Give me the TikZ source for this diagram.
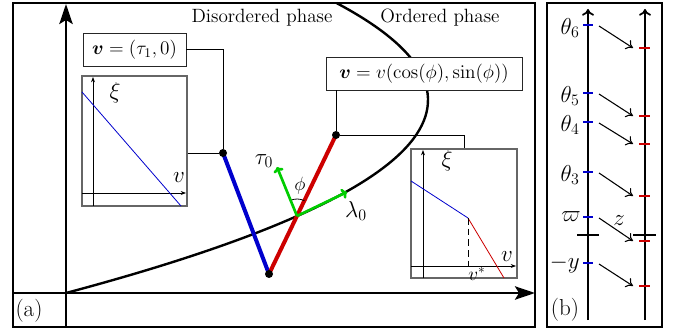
\documentclass[tikz,border=0pt]{standalone}
\usepackage{amsmath,bm}
\usetikzlibrary{arrows.meta}
\definecolor{myblue}{RGB}{0,0,205}
\definecolor{myred}{RGB}{205,0,0}
\definecolor{mygreen}{RGB}{0,205,0}
\begin{document}
\begin{tikzpicture}[x=0.75pt,y=-0.75pt,
  frame/.style={line width=1.6pt},
  bigaxis/.style={line width=1.8pt,-{Stealth[length=15pt,width=10pt,inset=3pt]}},
  thinline/.style={line width=0.6pt},
  smallarrow/.style={line width=0.6pt,-{Stealth[length=4pt,width=3pt]}},
  labelbox/.style={draw=black!85,line width=0.6pt,fill=white,inner sep=0pt},
  inset/.style={draw=black!60,line width=0.8pt,fill=white},
  dot/.style={circle,fill=black,inner sep=0pt,minimum size=6pt},
  thickcol/.style={line width=3pt},
  gvec/.style={mygreen,line width=2pt,-{To[length=4pt,width=8pt]}},
  bax/.style={line width=1.3pt,-{To[length=5pt,width=9pt]}},
  btick/.style={line width=1.5pt},
  barrow/.style={line width=0.8pt,-{To[length=5pt,width=8pt]}},
  txt/.style={font=\fontsize{14.4}{17}\selectfont,inner sep=0pt},
  bigtxt/.style={font=\fontsize{17.28}{20}\selectfont,inner sep=0pt},
]
\useasboundingbox (0,0) rectangle (681,331);
% ---- panel (a)
\draw[frame] (13,3) rectangle (535,327);
\draw[bigaxis] (66,327) -- (66,4);
\draw[bigaxis] (13,293) -- (535,293);
\node[bigtxt] (lab-a) at (29,311) {(a)};
\draw[line width=1.8pt] (66,293) .. controls (428.7,196.3) and (518.8,99.7) .. (336.5,3);
\node[txt] (dis) at (262,18) {Disordered phase};
\node[txt] (ord) at (440,18) {Ordered phase};
% colored lines
\coordinate (p1) at (223,153);
\coordinate (p0) at (269,274);
\coordinate (p2) at (336,135);
\draw[thickcol,myblue] (p1) -- (p0);
\draw[thickcol,myred] (p0) -- (p2);
\node[dot] (d1) at (p1) {};
\node[dot] (d0) at (p0) {};
\node[dot] (d2) at (p2) {};
% green frame
\coordinate (g0) at (297,216);
\coordinate (gt) at (277,167);
\coordinate (gl) at (347,192);
\draw[thinline] (g0) ++(-112:17) arc[start angle=-112,end angle=-64,radius=17];
\draw[gvec] (g0) -- (gt);
\draw[gvec] (g0) -- (gl);
\node[bigtxt] (tau) at (264,161) {$\tau_0$};
\node[bigtxt] (lam) at (356,211) {$\lambda_0$};
\node[txt] (phi) at (300,186) {$\phi$};
% boxes
\node[labelbox,txt,minimum width=77.25pt,minimum height=24.75pt] (b1) at (134.5,49.5) {$\bm{v}=(\tau_1,0)$};
\node[labelbox,txt,minimum width=147pt,minimum height=24.75pt] (b2) at (424,73.5) {$\bm{v}=v(\cos(\phi),\sin(\phi))$};
% inset 1
\node[inset,minimum width=78.75pt,minimum height=97.5pt] (i1) at (134.5,141) {};
\draw[smallarrow] (93,206) -- (93,77);
\draw[smallarrow] (82,193) -- (186,193);
\draw[myblue,line width=0.6pt] (82,92) -- (181,206);
\node[bigtxt] (xi1) at (115,93) {$\xi$};
\node[bigtxt] (v1) at (179,178) {$v$};
% inset 2
\node[inset,minimum width=79.5pt,minimum height=96.75pt] (i2) at (464,213.5) {};
\draw[smallarrow] (423,278) -- (423,150);
\draw[smallarrow] (411,266) -- (516,266);
\draw[myblue,line width=0.6pt] (411,181) -- (468,218);
\draw[myred,line width=0.6pt] (468,218) -- (504,278);
\draw[line width=0.6pt,dash pattern=on 5pt off 3pt] (468,218) -- (468,266);
\node[bigtxt] (xi2) at (447,161) {$\xi$};
\node[bigtxt] (v2) at (507,257) {$v$};
\node[txt] (vs) at (477,274) {$v^*$};
% connectors
\draw[thinline] (b1.east) -| (d1);
\draw[thinline] (i1.east |- d1) -- (d1);
\draw[thinline] (b2.south -| d2) -- (d2);
\draw[thinline] (d2) -| (i2.north);
% ---- panel (b)
\draw[line width=2pt] (547,3) rectangle (662,327);
\draw[bax] (588,320) -- (588,9);
\draw[bax] (645,320) -- (645,9);
\draw[line width=1.5pt] (577,235) -- (599,235);
\draw[line width=1.5pt] (633,235) -- (656,235);
\foreach \i/\yb/\yr in {1/25/48,2/93/116,3/122/144,4/172/196,5/217/241,6/263/286}{
  \draw[myblue,btick] (583,\yb) -- (593,\yb);
  \draw[myred,btick] (639,\yr) -- (650,\yr);
  \coordinate (s\i) at (599,\yb+1);
  \coordinate (e\i) at (633,\yr);
  \draw[barrow] (s\i) -- (e\i);
}
\node[bigtxt,anchor=east] (th6) at (580,28) {$\theta_6$};
\node[bigtxt,anchor=east] (th5) at (580,96) {$\theta_5$};
\node[bigtxt,anchor=east] (th4) at (580,125) {$\theta_4$};
\node[bigtxt,anchor=east] (th3) at (580,175) {$\theta_3$};
\node[bigtxt,anchor=east] (vp) at (581,217) {$\varpi$};
\node[bigtxt] (zz) at (619,221) {$z$};
\node[bigtxt,anchor=east] (my) at (580,264) {$-y$};
\node[bigtxt] (lab-b) at (565,310) {(b)};
\end{tikzpicture}
\end{document}
